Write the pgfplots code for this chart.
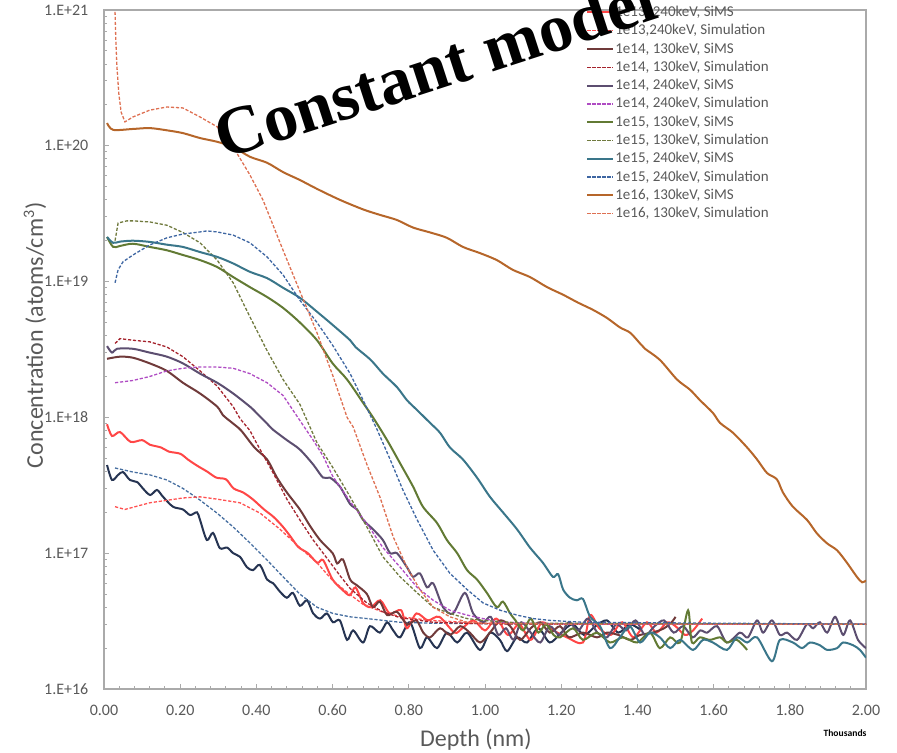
\documentclass[border=0pt]{standalone}
\usepackage{fontspec}
\setmainfont{Carlito}
\newfontfamily\titlefont{Liberation Serif}
\usepackage{pgfplots}
\pgfplotsset{compat=1.18}
\definecolor{axisgray}{RGB}{170,170,170}
\definecolor{tickgray}{RGB}{89,89,89}
\definecolor{cNavy}{RGB}{38,52,82}
\definecolor{cSteel}{RGB}{70,110,160}
\definecolor{cRed}{RGB}{255,70,70}
\definecolor{cRedD}{RGB}{255,80,80}
\definecolor{cBrown}{RGB}{112,58,58}
\definecolor{cDRed}{RGB}{165,35,45}
\definecolor{cPurG}{RGB}{92,78,112}
\definecolor{cPur}{RGB}{175,75,195}
\definecolor{cOlive}{RGB}{98,122,52}
\definecolor{cOliveD}{RGB}{112,122,62}
\definecolor{cTeal}{RGB}{58,118,138}
\definecolor{cBlueD}{RGB}{62,102,162}
\definecolor{cOrange}{RGB}{182,102,42}
\definecolor{cOrangeD}{RGB}{222,112,82}
\tikzset{sims/.style={line width=1pt, smooth, tension=0.5},simu/.style={line width=0.65pt,dash pattern=on 1.6pt off 0.9pt}}
\begin{document}
\begin{tikzpicture}
\begin{axis}[
  scale only axis, width=381pt, height=339.5pt,
  xmin=0, xmax=2, ymode=log, ymin=1e16, ymax=1e21,
  xtick={0,0.2,0.4,0.6,0.8,1,1.2,1.4,1.6,1.8,2},
  xticklabels={0.00,0.20,0.40,0.60,0.80,1.00,1.20,1.40,1.60,1.80,2.00},
  minor x tick num=4,
  ytick={1e16,1e17,1e18,1e19,1e20,1e21},
  yticklabels={1.E+16,1.E+17,1.E+18,1.E+19,1.E+20,1.E+21},
  minor ytick={2e16,3e16,4e16,5e16,6e16,7e16,8e16,9e16,2e17,3e17,4e17,5e17,6e17,7e17,8e17,9e17,2e18,3e18,4e18,5e18,6e18,7e18,8e18,9e18,2e19,3e19,4e19,5e19,6e19,7e19,8e19,9e19,2e20,3e20,4e20,5e20,6e20,7e20,8e20,9e20},
  xtick pos=bottom, ytick pos=left, tick align=inside,
  major tick length=2.5pt, minor tick length=1.7pt,
  axis line style={draw=axisgray, line width=0.7pt},
  every tick/.style={draw=axisgray, line width=0.5pt},
  tick label style={font=\fontsize{8}{9.6}\selectfont, text=tickgray},
  xticklabel style={yshift=-4.5pt},
  yticklabel style={xshift=-4.3pt},
  xlabel={Depth (nm)},
  ylabel={Concentration (atoms/cm\textsuperscript{3})},
  label style={font=\fontsize{12}{14}\selectfont, text=tickgray},
  xlabel style={at={(axis description cs:0.488,-0.075)}, anchor=center},
  ylabel style={at={(axis description cs:-0.0906,0.521)}, anchor=center},
  legend style={at={(rel axis cs:0.6325,1.0088)}, anchor=north west, draw=none, fill=none, inner sep=0pt,
    font=\fontsize{7.5}{9}\selectfont, row sep=1.15pt,
    nodes={inner sep=0.5pt, text height=5.5pt, text depth=1.5pt, text=tickgray}},
  legend cell align=left,
  legend image code/.code={\draw[#1, sharp plot] (0pt,0pt) -- (13pt,0pt);},
]
% 1e13 130keV SiMS (legend entry outside the picture)
\addplot[sims, cNavy, forget plot] coordinates {(0.008,4.46e17) (0.021,3.46e17) (0.037,3.77e17) (0.050,3.96e17) (0.068,3.46e17) (0.087,3.34e17) (0.102,3.0e17) (0.121,2.68e17) (0.139,2.92e17) (0.155,2.6e17) (0.181,2.2e17) (0.207,2.1e17) (0.226,1.91e17) (0.244,2.0e17) (0.252,1.76e17) (0.270,1.25e17) (0.286,1.41e17) (0.304,1.09e17) (0.323,1.1e17) (0.339,1.0e17) (0.357,9.4e16) (0.375,7.9e16) (0.391,7.5e16) (0.409,8.2e16) (0.428,6.4e16) (0.444,6.0e16) (0.462,5.2e16) (0.480,4.7e16) (0.496,5.1e16) (0.514,4.1e16) (0.533,4.5e16) (0.549,3.6e16) (0.567,3.3e16) (0.585,3.6e16) (0.601,3.1e16) (0.619,3.2e16) (0.638,2.3e16) (0.654,2.7e16) (0.680,2.2e16) (0.698,2.9e16) (0.724,2.6e16) (0.743,3.1e16) (0.759,2.7e16) (0.777,2.4e16) (0.803,3.1e16) (0.829,2.0e16) (0.848,2.4e16) (0.874,2.0e16) (0.900,2.6e16) (0.927,2.2e16) (0.953,2.6e16) (0.987,1.94e16) (1.013,2.6e16) (1.039,2.3e16) (1.058,1.9e16) (1.084,2.4e16) (1.110,2.2e16) (1.140,2.8e16) (1.170,2.2e16) (1.200,2.6e16) (1.230,3.0e16) (1.260,2.5e16) (1.290,2.9e16) (1.320,3.2e16) (1.350,2.6e16) (1.380,3.0e16) (1.410,2.7e16)};
% 1e13 130keV Simulation
\addplot[simu, cSteel, forget plot] coordinates {(0.029,4.24e17) (0.076,3.96e17) (0.121,3.77e17) (0.165,3.46e17) (0.207,3.0e17) (0.252,2.46e17) (0.297,1.97e17) (0.339,1.56e17) (0.383,1.19e17) (0.428,8.9e16) (0.470,6.7e16) (0.514,5.0e16) (0.559,4.0e16) (0.601,3.6e16) (0.646,3.4e16) (0.690,3.3e16) (0.777,3.1e16) (0.864,3.05e16) (1.2,3.0e16) (2.0,3.0e16)};
\addplot[sims, cRed] coordinates {(0.008,8.9e17) (0.021,7.3e17) (0.042,7.8e17) (0.070,6.6e17) (0.100,6.8e17) (0.120,6.3e17) (0.150,6.0e17) (0.170,5.6e17) (0.200,5.4e17) (0.220,4.9e17) (0.245,4.4e17) (0.270,4.0e17) (0.295,3.6e17) (0.320,3.5e17) (0.340,3.0e17) (0.365,2.8e17) (0.390,2.5e17) (0.420,2.1e17) (0.445,1.85e17) (0.470,1.56e17) (0.490,1.32e17) (0.510,1.11e17) (0.535,1.0e17) (0.560,8.5e16) (0.575,8.9e16) (0.600,6.4e16) (0.625,5.4e16) (0.645,4.9e16) (0.660,5.6e16) (0.680,4.3e16) (0.700,4.0e16) (0.725,4.5e16) (0.750,3.6e16) (0.780,3.8e16) (0.795,2.8e16) (0.820,3.6e16) (0.850,3.2e16) (0.880,3.4e16) (0.920,2.6e16) (0.940,2.8e16) (0.970,3.2e16) (1.000,2.7e16) (1.030,3.3e16) (1.060,2.5e16) (1.090,3.0e16) (1.120,2.3e16) (1.150,3.1e16) (1.180,2.7e16) (1.215,2.4e16) (1.257,2.2e16) (1.276,3.5e16) (1.300,2.8e16) (1.330,2.5e16) (1.360,3.1e16) (1.390,2.4e16) (1.425,3.1e16) (1.450,2.6e16) (1.478,3.1e16) (1.500,2.9e16) (1.525,2.5e16) (1.546,2.7e16) (1.570,3.3e16)};
\addlegendentry{1e13, 240keV, SiMS}
\addplot[simu, cRedD] coordinates {(0.029,2.2e17) (0.055,2.1e17) (0.120,2.35e17) (0.207,2.55e17) (0.252,2.6e17) (0.297,2.5e17) (0.357,2.35e17) (0.410,1.97e17) (0.462,1.5e17) (0.514,1.1e17) (0.559,8.5e16) (0.600,6.3e16) (0.640,5.1e16) (0.680,4.2e16) (0.730,3.7e16) (0.780,3.4e16) (0.855,3.2e16) (1.000,3.05e16) (1.300,3.0e16) (2.000,3.0e16)};
\addlegendentry{1e13,240keV, Simulation}
\addplot[sims, cBrown] coordinates {(0.008,2.7e18) (0.042,2.8e18) (0.076,2.75e18) (0.120,2.5e18) (0.165,2.2e18) (0.207,1.8e18) (0.252,1.5e18) (0.297,1.2e18) (0.312,1.04e18) (0.339,9.0e17) (0.360,8.0e17) (0.395,6.0e17) (0.428,4.9e17) (0.454,3.6e17) (0.480,2.8e17) (0.514,2.1e17) (0.540,1.6e17) (0.567,1.25e17) (0.600,1.0e17) (0.612,8.4e16) (0.627,9.0e16) (0.646,6.4e16) (0.664,5.8e16) (0.690,5.0e16) (0.706,4.0e16) (0.724,4.4e16) (0.743,3.5e16) (0.769,3.7e16) (0.795,3.0e16) (0.820,3.2e16) (0.838,2.6e16) (0.856,2.4e16) (0.882,2.8e16) (0.908,2.5e16) (0.935,2.9e16) (0.960,2.6e16) (0.987,2.2e16) (1.013,2.6e16) (1.040,3.2e16) (1.066,2.9e16) (1.092,2.3e16) (1.120,2.8e16) (1.145,3.1e16) (1.170,2.6e16) (1.197,2.9e16) (1.220,2.4e16) (1.257,2.6e16) (1.294,2.4e16) (1.320,2.6e16) (1.350,2.5e16) (1.381,2.3e16) (1.407,2.5e16) (1.440,2.6e16) (1.470,2.8e16) (1.490,3.1e16) (1.500,3.4e16)};
\addlegendentry{1e14, 130keV, SiMS}
\addplot[simu, cDRed] coordinates {(0.029,3.5e18) (0.042,3.8e18) (0.076,3.7e18) (0.120,3.6e18) (0.165,3.3e18) (0.207,2.8e18) (0.252,2.2e18) (0.297,1.7e18) (0.339,1.2e18) (0.357,9.8e17) (0.383,8.0e17) (0.400,6.5e17) (0.444,3.9e17) (0.480,2.5e17) (0.514,1.76e17) (0.549,1.25e17) (0.585,9.2e16) (0.620,6.8e16) (0.646,5.5e16) (0.690,4.3e16) (0.732,3.7e16) (0.777,3.35e16) (0.864,3.1e16) (1.000,3.02e16) (1.200,3.0e16) (2.000,3.0e16)};
\addlegendentry{1e14, 130keV, Simulation}
\addplot[sims, cPurG] coordinates {(0.008,3.35e18) (0.021,3.0e18) (0.034,3.2e18) (0.076,3.2e18) (0.120,3.0e18) (0.165,2.8e18) (0.207,2.5e18) (0.252,2.1e18) (0.297,1.8e18) (0.339,1.5e18) (0.383,1.2e18) (0.400,1.08e18) (0.428,9.0e17) (0.444,8.1e17) (0.480,6.8e17) (0.514,5.8e17) (0.549,4.5e17) (0.575,3.6e17) (0.593,3.6e17) (0.619,3.1e17) (0.646,2.3e17) (0.664,2.1e17) (0.680,1.76e17) (0.706,1.5e17) (0.732,1.25e17) (0.751,1.0e17) (0.769,1.0e17) (0.795,7.9e16) (0.811,6.7e16) (0.829,7.1e16) (0.848,5.6e16) (0.864,6.0e16) (0.890,4.0e16) (0.916,3.6e16) (0.947,5.1e16) (0.969,3.6e16) (0.995,3.1e16) (1.015,3.4e16) (1.035,2.5e16) (1.055,2.8e16) (1.075,2.3e16) (1.095,3.1e16) (1.120,2.6e16) (1.145,2.2e16) (1.170,2.9e16) (1.195,2.5e16) (1.220,3.1e16) (1.245,2.7e16) (1.270,3.3e16) (1.295,2.6e16) (1.320,2.4e16) (1.345,3.0e16) (1.370,2.7e16) (1.395,3.2e16) (1.420,2.5e16) (1.445,2.9e16) (1.470,3.2e16) (1.495,2.6e16) (1.520,2.9e16) (1.545,2.4e16) (1.565,2.7e16) (1.583,2.6e16) (1.609,2.9e16) (1.635,2.2e16) (1.669,2.6e16) (1.690,2.4e16) (1.714,3.2e16) (1.730,2.6e16) (1.753,3.2e16) (1.774,2.5e16) (1.793,2.6e16) (1.819,2.3e16) (1.845,3.0e16) (1.861,2.8e16) (1.879,3.1e16) (1.898,2.6e16) (1.919,3.4e16) (1.940,2.5e16) (1.958,3.2e16) (1.979,2.3e16) (2.000,2.0e16)};
\addlegendentry{1e14, 240keV, SiMS}
\addplot[simu, cPur] coordinates {(0.029,1.8e18) (0.076,1.87e18) (0.120,2.0e18) (0.165,2.2e18) (0.207,2.3e18) (0.252,2.35e18) (0.297,2.35e18) (0.339,2.3e18) (0.383,2.1e18) (0.428,1.8e18) (0.470,1.45e18) (0.514,9.5e17) (0.549,6.8e17) (0.575,5.2e17) (0.600,3.7e17) (0.646,2.4e17) (0.690,1.65e17) (0.732,1.1e17) (0.777,7.9e16) (0.822,5.6e16) (0.864,4.5e16) (0.908,3.8e16) (0.953,3.5e16) (0.995,3.3e16) (1.040,3.1e16) (1.200,3.02e16) (2.000,3.0e16)};
\addlegendentry{1e14, 240keV, Simulation}
\addplot[sims, cOlive] coordinates {(0.008,2.13e19) (0.024,1.8e19) (0.042,1.83e19) (0.076,1.9e19) (0.120,1.8e19) (0.165,1.7e19) (0.207,1.57e19) (0.252,1.44e19) (0.297,1.28e19) (0.339,1.08e19) (0.383,9.1e18) (0.428,7.7e18) (0.470,6.4e18) (0.514,5.0e18) (0.559,3.7e18) (0.600,2.5e18) (0.638,1.9e18) (0.680,1.28e18) (0.706,1.0e18) (0.743,6.8e17) (0.777,4.6e17) (0.811,3.1e17) (0.837,2.2e17) (0.874,1.67e17) (0.900,1.25e17) (0.927,1.0e17) (0.953,7.5e16) (0.979,6.4e16) (1.005,5.1e16) (1.031,4.0e16) (1.047,4.4e16) (1.066,3.6e16) (1.080,3.2e16) (1.100,2.7e16) (1.120,3.3e16) (1.140,2.6e16) (1.160,3.0e16) (1.180,2.5e16) (1.197,2.4e16) (1.231,2.8e16) (1.257,2.3e16) (1.294,2.6e16) (1.328,2.2e16) (1.362,2.4e16) (1.399,2.2e16) (1.433,2.6e16) (1.459,2.0e16) (1.486,2.4e16) (1.512,2.2e16) (1.533,3.8e16) (1.543,2.2e16) (1.564,2.4e16) (1.590,2.3e16) (1.617,2.4e16) (1.635,2.2e16) (1.661,2.3e16) (1.688,1.94e16)};
\addlegendentry{1e15, 130keV, SiMS}
\addplot[simu, cOliveD] coordinates {(0.029,2.0e19) (0.037,2.7e19) (0.060,2.8e19) (0.076,2.8e19) (0.120,2.75e19) (0.165,2.6e19) (0.207,2.3e19) (0.252,1.93e19) (0.297,1.44e19) (0.339,9.8e18) (0.383,5.5e18) (0.428,3.1e18) (0.470,1.9e18) (0.514,1.25e18) (0.559,6.5e17) (0.600,4.3e17) (0.646,2.6e17) (0.690,1.56e17) (0.732,9.4e16) (0.777,6.7e16) (0.822,5.1e16) (0.864,4.0e16) (0.908,3.6e16) (0.953,3.3e16) (0.995,3.2e16) (1.100,3.05e16) (2.000,3.0e16)};
\addlegendentry{1e15, 130keV, Simulation}
\addplot[sims, cTeal] coordinates {(0.008,2.13e19) (0.024,1.93e19) (0.042,1.97e19) (0.076,2.0e19) (0.120,1.96e19) (0.165,1.87e19) (0.207,1.8e19) (0.252,1.65e19) (0.297,1.52e19) (0.339,1.36e19) (0.383,1.18e19) (0.428,1.06e19) (0.470,9.0e18) (0.514,7.6e18) (0.559,6.0e18) (0.600,4.8e18) (0.646,3.7e18) (0.660,3.3e18) (0.700,2.65e18) (0.732,2.1e18) (0.769,1.67e18) (0.795,1.34e18) (0.822,1.13e18) (0.856,9.1e17) (0.882,7.7e17) (0.908,6.0e17) (0.942,4.9e17) (0.979,3.6e17) (1.013,2.6e17) (1.047,2.0e17) (1.084,1.5e17) (1.118,1.1e17) (1.152,8.5e16) (1.178,6.7e16) (1.192,7.0e16) (1.205,5.4e16) (1.223,4.7e16) (1.241,4.5e16) (1.257,4.6e16) (1.276,3.4e16) (1.302,2.9e16) (1.328,2.0e16) (1.354,2.4e16) (1.380,2.9e16) (1.407,2.2e16) (1.433,2.6e16) (1.459,2.4e16) (1.486,2.0e16) (1.512,2.3e16) (1.546,1.94e16) (1.572,2.3e16) (1.598,2.2e16) (1.635,1.94e16) (1.661,2.4e16) (1.688,2.2e16) (1.714,2.4e16) (1.753,1.6e16) (1.774,2.3e16) (1.808,2.2e16) (1.832,2.0e16) (1.853,2.2e16) (1.879,2.1e16) (1.898,1.94e16) (1.924,2.0e16) (1.940,2.2e16) (1.966,2.1e16) (1.984,1.94e16) (2.000,1.7e16)};
\addlegendentry{1e15, 240keV, SiMS}
\addplot[simu, cBlueD] coordinates {(0.029,9.8e18) (0.037,1.22e19) (0.050,1.4e19) (0.076,1.57e19) (0.120,1.86e19) (0.165,2.1e19) (0.207,2.24e19) (0.252,2.32e19) (0.270,2.36e19) (0.297,2.32e19) (0.339,2.2e19) (0.383,1.93e19) (0.428,1.52e19) (0.470,1.12e19) (0.514,7.3e18) (0.559,5.0e18) (0.600,3.4e18) (0.646,2.1e18) (0.680,1.34e18) (0.717,8.1e17) (0.751,4.9e17) (0.785,2.9e17) (0.822,1.76e17) (0.864,1.05e17) (0.908,7.1e16) (0.953,5.4e16) (0.995,4.3e16) (1.040,3.8e16) (1.084,3.5e16) (1.126,3.3e16) (1.171,3.2e16) (1.257,3.1e16) (2.000,3.0e16)};
\addlegendentry{1e15, 240keV, Simulation}
\addplot[sims, cOrange] coordinates {(0.008,1.47e20) (0.024,1.31e20) (0.076,1.33e20) (0.120,1.35e20) (0.165,1.3e20) (0.207,1.24e20) (0.252,1.14e20) (0.297,1.07e20) (0.339,9.8e19) (0.383,8.3e19) (0.428,7.5e19) (0.470,6.4e19) (0.514,5.6e19) (0.560,4.8e19) (0.619,4.0e19) (0.680,3.4e19) (0.724,3.1e19) (0.769,2.84e19) (0.811,2.5e19) (0.856,2.3e19) (0.900,2.1e19) (0.942,1.8e19) (0.987,1.62e19) (1.031,1.44e19) (1.073,1.22e19) (1.118,1.08e19) (1.163,9.1e18) (1.205,8.0e18) (1.244,7.0e18) (1.283,6.2e18) (1.320,5.4e18) (1.354,4.6e18) (1.381,4.2e18) (1.407,3.5e18) (1.420,3.2e18) (1.459,2.65e18) (1.504,1.9e18) (1.538,1.6e18) (1.564,1.34e18) (1.598,1.08e18) (1.617,9.1e17) (1.651,7.7e17) (1.688,6.0e17) (1.714,4.9e17) (1.740,3.9e17) (1.766,3.5e17) (1.782,2.8e17) (1.808,2.2e17) (1.845,1.76e17) (1.871,1.4e17) (1.898,1.18e17) (1.924,1.05e17) (1.950,8.5e16) (1.976,6.7e16) (1.990,6.1e16) (2.000,6.3e16)};
\addlegendentry{1e16, 130keV, SiMS}
\addplot[simu, cOrangeD] coordinates {(0.029,9.7e20) (0.031,6.0e20) (0.034,3.8e20) (0.039,2.4e20) (0.045,1.77e20) (0.055,1.5e20) (0.076,1.63e20) (0.120,1.83e20) (0.165,1.93e20) (0.207,1.9e20) (0.252,1.63e20) (0.297,1.38e20) (0.339,9.8e19) (0.383,6.1e19) (0.417,4.0e19) (0.470,1.7e19) (0.514,8.5e18) (0.559,4.2e18) (0.600,2.05e18) (0.638,1.0e18) (0.654,8.5e17) (0.690,4.5e17) (0.724,2.6e17) (0.759,1.32e17) (0.795,7.9e16) (0.829,5.4e16) (0.864,4.0e16) (0.908,3.4e16) (0.953,3.1e16) (0.995,3.05e16) (1.200,3.0e16) (2.000,3.0e16)};
\addlegendentry{1e16, 130keV, Simulation}
\end{axis}
\node[rotate=18, anchor=base west, font=\titlefont\bfseries\fontsize{34}{40}\selectfont] at (56.5pt,263.5pt) {Constant model};
\node[font=\bfseries\fontsize{4.8}{5.5}\selectfont, text=black] at (370.5pt,-22pt) {Thousands};
\pgfresetboundingbox
\useasboundingbox (-52pt,-31.5pt) rectangle (396.5pt,344.5pt);
\end{tikzpicture}
\end{document}
